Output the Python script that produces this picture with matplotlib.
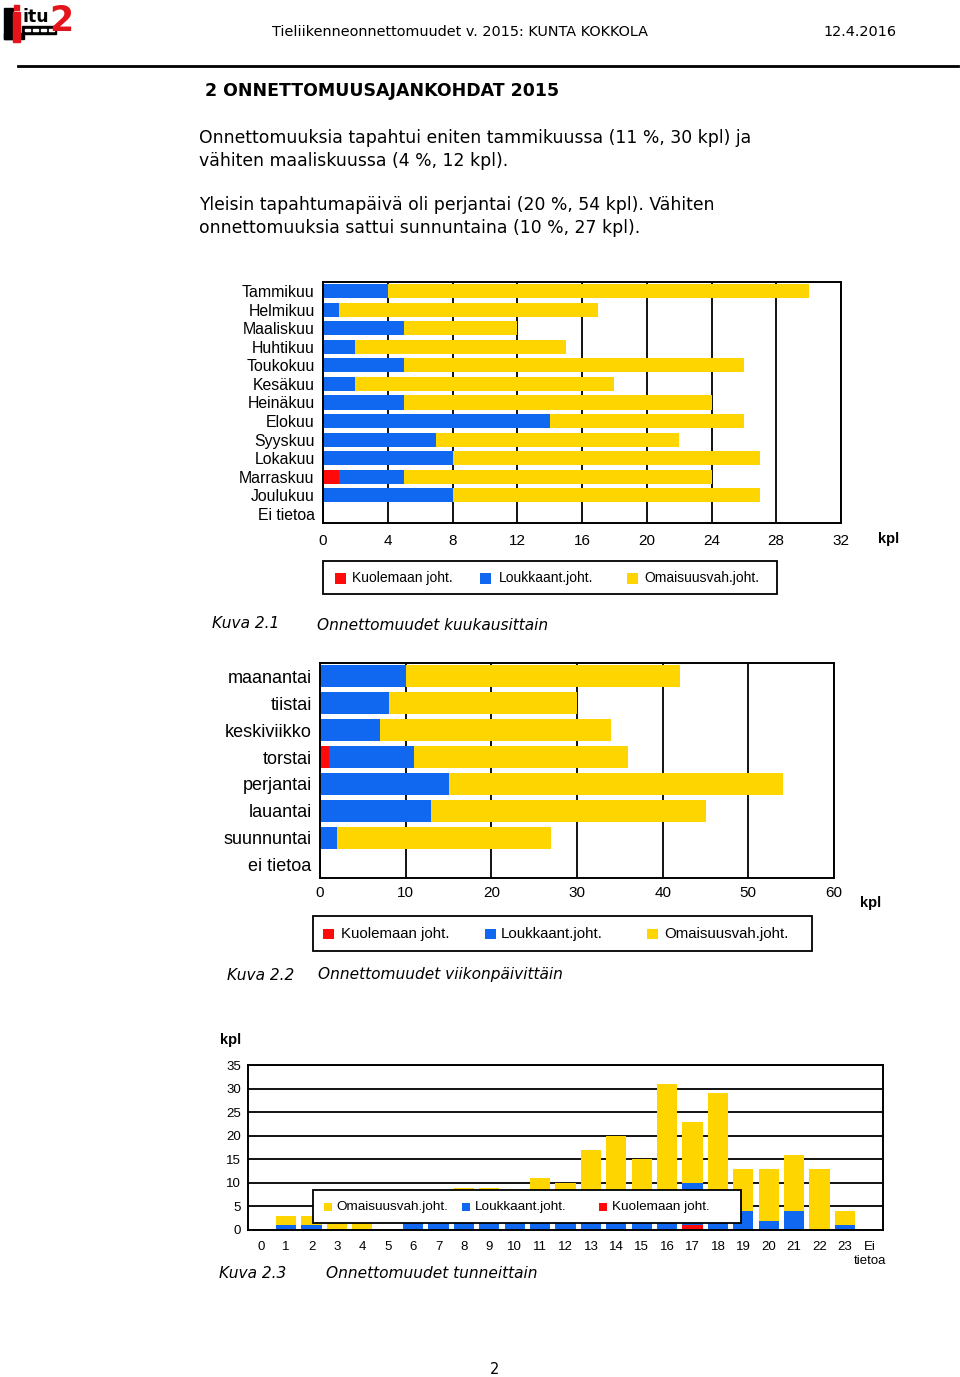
import numpy as np
import matplotlib
matplotlib.use("Agg")
import matplotlib.pyplot as plt
from matplotlib.patches import Rectangle

plt.rcParams['font.family'] = ['Liberation Sans', 'DejaVu Sans']

W, H = 960, 1377
RED = '#ff0a0a'
BLUE = '#1068f0'
YELLOW = '#ffd500'

# ---------------- data ----------------
months = ['Tammikuu', 'Helmikuu', 'Maaliskuu', 'Huhtikuu', 'Toukokuu', 'Kesäkuu',
          'Heinäkuu', 'Elokuu', 'Syyskuu', 'Lokakuu', 'Marraskuu', 'Joulukuu', 'Ei tietoa']
m_kuol = [0, 0, 0, 0, 0, 0, 0, 0, 0, 0, 1, 0, 0]
m_louk = [4, 1, 5, 2, 5, 2, 5, 14, 7, 8, 4, 8, 0]
m_omai = [26, 16, 7, 13, 21, 16, 19, 12, 15, 19, 19, 19, 0]
m_ticks = [0, 4, 8, 12, 16, 20, 24, 28, 32]

days = ['maanantai', 'tiistai', 'keskiviikko', 'torstai', 'perjantai', 'lauantai',
        'suunnuntai', 'ei tietoa']
d_kuol = [0, 0, 0, 1, 0, 0, 0, 0]
d_louk = [10, 8, 7, 10, 15, 13, 2, 0]
d_omai = [32, 22, 27, 25, 39, 32, 25, 0]
d_ticks = [0, 10, 20, 30, 40, 50, 60]

hours = [str(i) for i in range(24)] + ['Ei\ntietoa']
h_kuol = [0, 0, 0, 0, 0, 0, 0, 0, 0, 0, 0, 0, 0, 0, 0, 0, 0, 1, 0, 0, 0, 0, 0, 0, 0]
h_louk = [0, 1, 1, 0, 0, 0, 2, 3, 3, 3, 2, 4, 3, 5, 4, 4, 5, 9, 5, 4, 2, 4, 0, 1, 0]
h_omai = [0, 2, 2, 3, 2, 0, 6, 5, 6, 6, 6, 7, 7, 12, 16, 11, 26, 13, 24, 9, 11, 12, 13, 3, 0]
h_ticks = [0, 5, 10, 15, 20, 25, 30, 35]

lbl_kuol = 'Kuolemaan joht.'
lbl_louk = 'Loukkaant.joht.'
lbl_omai = 'Omaisuusvah.joht.'

# ---------------- helpers ----------------
fig = plt.figure(figsize=(W / 100, H / 100), dpi=100)


def rect(x0, y0, x1, y1):
    return [x0 / W, 1 - y1 / H, (x1 - x0) / W, (y1 - y0) / H]


def txt(x, y, s, **kw):
    kw.setdefault('va', 'center')
    kw.setdefault('ha', 'left')
    return fig.text(x / W, 1 - y / H, s, **kw)


PAGE = ['DejaVu Sans']

# ---------------- header (background overlay) ----------------
hdr = fig.add_axes([0, 0, 1, 1], zorder=-5)
hdr.set_xlim(0, W)
hdr.set_ylim(H, 0)
hdr.axis('off')
# logo
hdr.add_patch(Rectangle((4, 8), 9, 31, color='black'))
hdr.add_patch(Rectangle((4, 33), 20, 6, color='black'))
hdr.add_patch(Rectangle((13, 12), 7, 30, color='#e3141b'))
hdr.add_patch(Rectangle((14, 5), 5, 5, color='#e3141b'))
hdr.add_patch(Rectangle((22, 26), 34, 8, color='black'))
for xd in (25, 33, 41, 49):
    hdr.add_patch(Rectangle((xd, 29), 5, 2, color='white'))
hdr.text(22, 17, 'itu', fontsize=12.5, fontweight='bold', color='black',
         va='center', ha='left', family=PAGE)
hdr.text(49, 21, '2', fontsize=25, fontweight='bold', color='#e3141b',
         va='center', ha='left', family=PAGE)
hdr.plot([18, 958], [66, 66], color='black', lw=2)

txt(272, 32, 'Tieliikenneonnettomuudet v. 2015: KUNTA KOKKOLA', fontsize=10.4, family=PAGE)
txt(896, 32, '12.4.2016', fontsize=10.4, family=PAGE, ha='right')
txt(205, 91, '2 ONNETTOMUUSAJANKOHDAT 2015', fontsize=12.5, fontweight='bold', family=PAGE)
PFS = 12.4
txt(199, 138, 'Onnettomuuksia tapahtui eniten tammikuussa (11 %, 30 kpl) ja', fontsize=PFS, family=PAGE)
txt(199, 161, 'vähiten maaliskuussa (4 %, 12 kpl).', fontsize=PFS, family=PAGE)
txt(199, 205, 'Yleisin tapahtumapäivä oli perjantai (20 %, 54 kpl). Vähiten', fontsize=PFS, family=PAGE)
txt(199, 228, 'onnettomuuksia sattui sunnuntaina (10 %, 27 kpl).', fontsize=PFS, family=PAGE)

# ---------------- foreground overlay for legends ----------------
top = fig.add_axes([0, 0, 1, 1], zorder=10)
top.set_xlim(0, W)
top.set_ylim(H, 0)
top.axis('off')
top.patch.set_alpha(0)

COLORS = {'k': (RED, lbl_kuol), 'l': (BLUE, lbl_louk), 'o': (YELLOW, lbl_omai)}


def legend(order, box, xs, yc, size, fs):
    x0, y0, x1, y1 = box
    top.add_patch(Rectangle((x0, y0), x1 - x0, y1 - y0, facecolor='white',
                            edgecolor='black', lw=1.3))
    for key, (hx, tx) in zip(order, xs):
        col, lab = COLORS[key]
        top.add_patch(Rectangle((hx, yc - size / 2), size, size, facecolor=col, lw=0))
        top.text(tx, yc, lab, fontsize=fs, va='center', ha='left')


def style(ax):
    for s in ax.spines.values():
        s.set_linewidth(1.4)
        s.set_color('black')
    ax.set_axisbelow(True)


# ---------------- chart 1 ----------------
ax1 = fig.add_axes(rect(323, 282, 841, 523))
y1 = np.arange(len(months))
k1 = np.array(m_kuol)
l1 = np.array(m_louk)
o1 = np.array(m_omai)
ax1.barh(y1, k1, height=0.76, color=RED, lw=0)
ax1.barh(y1, l1, left=k1, height=0.76, color=BLUE, lw=0)
ax1.barh(y1, o1, left=k1 + l1, height=0.76, color=YELLOW, lw=0)
ax1.set_xlim(0, 32)
ax1.set_ylim(len(months) - 0.5, -0.5)
ax1.set_xticks(m_ticks)
ax1.set_yticks(y1, months)
ax1.tick_params(length=0, labelsize=11)
ax1.tick_params(axis='y', labelsize=11.4)
ax1.tick_params(axis='x', pad=8)
ax1.tick_params(axis='y', pad=6)
ax1.grid(axis='x', color='black', lw=1.3)
style(ax1)
txt(889, 539, 'kpl', fontsize=10.5, fontweight='bold', ha='center')
legend('klo', (323, 561, 777, 594), [(335, 352), (480, 499), (627, 644)], 578, 11, 10)
txt(212, 623, 'Kuva 2.1', fontsize=11.1, style='italic', family=PAGE)
txt(317, 626, 'Onnettomuudet kuukausittain', fontsize=11.1, style='italic', family=PAGE)

# ---------------- chart 2 ----------------
ax2 = fig.add_axes(rect(320, 663, 834, 878))
y2 = np.arange(len(days))
k2 = np.array(d_kuol)
l2 = np.array(d_louk)
o2 = np.array(d_omai)
ax2.barh(y2, k2, height=0.82, color=RED, lw=0)
ax2.barh(y2, l2, left=k2, height=0.82, color=BLUE, lw=0)
ax2.barh(y2, o2, left=k2 + l2, height=0.82, color=YELLOW, lw=0)
ax2.set_xlim(0, 60)
ax2.set_ylim(len(days) - 0.5, -0.5)
ax2.set_xticks(d_ticks)
ax2.set_yticks(y2, days)
ax2.tick_params(length=0)
ax2.tick_params(axis='x', pad=6, labelsize=11)
ax2.tick_params(axis='y', pad=6, labelsize=13)
ax2.grid(axis='x', color='black', lw=1.3)
style(ax2)
txt(871, 903, 'kpl', fontsize=10.5, fontweight='bold', ha='center')
legend('klo', (313, 916, 812, 951), [(323, 341), (485, 501), (647, 664)], 934, 10.5, 10.8)
txt(227, 975, 'Kuva 2.2', fontsize=11.1, style='italic', family=PAGE)
txt(318, 975, 'Onnettomuudet viikonpäivittäin', fontsize=11.1, style='italic', family=PAGE)

# ---------------- chart 3 ----------------
ax3 = fig.add_axes(rect(248, 1065, 883, 1230))
x3 = np.arange(len(hours))
k3 = np.array(h_kuol)
l3 = np.array(h_louk)
o3 = np.array(h_omai)
ax3.bar(x3, k3, width=0.8, color=RED, lw=0)
ax3.bar(x3, l3, bottom=k3, width=0.8, color=BLUE, lw=0)
ax3.bar(x3, o3, bottom=k3 + l3, width=0.8, color=YELLOW, lw=0)
ax3.set_xlim(-0.5, len(hours) - 0.5)
ax3.set_ylim(0, 35)
ax3.set_yticks(h_ticks)
ax3.set_xticks(x3, hours)
ax3.tick_params(length=0, labelsize=9.5)
ax3.tick_params(axis='x', pad=8)
ax3.tick_params(axis='y', pad=5)
ax3.grid(axis='y', color='black', lw=1.3)
style(ax3)
txt(231, 1040, 'kpl', fontsize=10.5, fontweight='bold', ha='center')
legend('olk', (313, 1190, 741, 1223), [(324, 336), (462, 475), (599, 612)], 1207, 8, 9.7)
txt(219, 1273, 'Kuva 2.3', fontsize=11.1, style='italic', family=PAGE)
txt(326, 1273, 'Onnettomuudet tunneittain', fontsize=11.1, style='italic', family=PAGE)

txt(495, 1369, '2', fontsize=10.5, family=PAGE, ha='center')

fig.savefig('out.png', dpi=100, facecolor='white')
